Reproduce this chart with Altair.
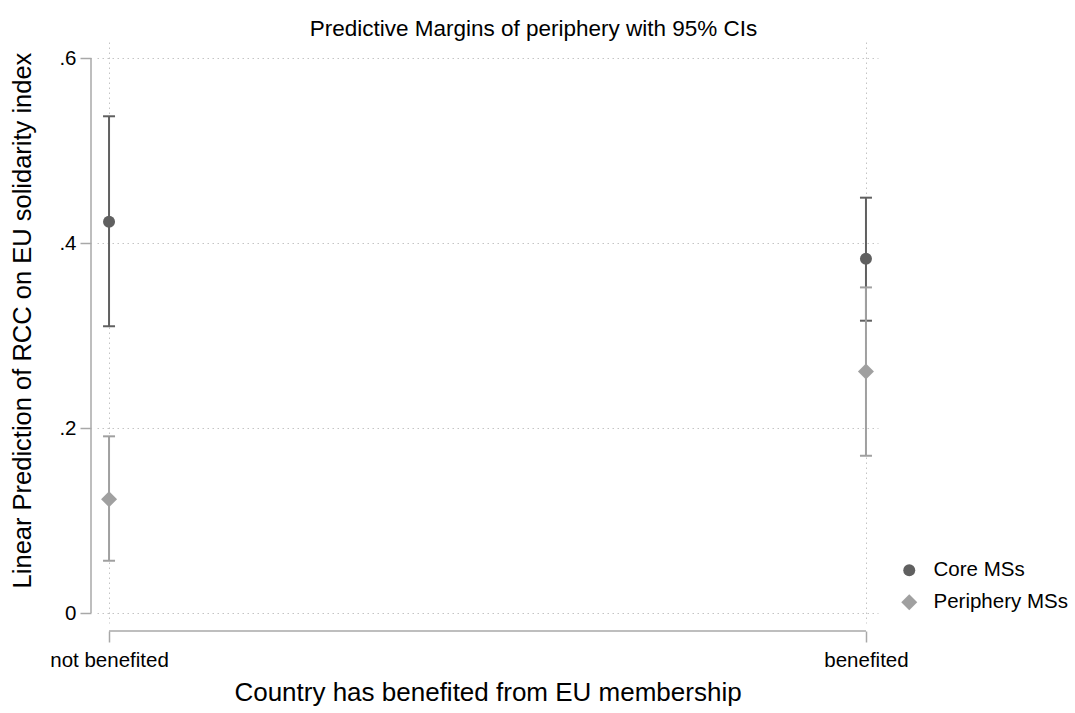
import altair as alt
import pandas as pd

# Predictive margins with 95% confidence intervals
categories = ["not benefited", "benefited"]
groups = ["Core MSs", "Periphery MSs"]

core_margin = [0.423, 0.383]
core_lo = [0.310, 0.316]
core_hi = [0.537, 0.449]

peri_margin = [0.123, 0.261]
peri_lo = [0.0565, 0.170]
peri_hi = [0.191, 0.352]

y_ticks = [0, 0.2, 0.4, 0.6]

group_colors = ["#606060", "#a0a0a0"]
group_shapes = ["circle", "diamond"]
group_sizes = [144, 256]

FONT = "Liberation Sans"
AXIS_GRAY = "#a8a8a8"
GRID_GRAY = "#c4c4c4"

rows = []
for i, cat in enumerate(categories):
    rows.append({"category": cat, "group": groups[0], "margin": core_margin[i],
                 "lo": core_lo[i], "hi": core_hi[i]})
for i, cat in enumerate(categories):
    rows.append({"category": cat, "group": groups[1], "margin": peri_margin[i],
                 "lo": peri_lo[i], "hi": peri_hi[i]})
df = pd.DataFrame(rows)

W, H = 781, 581

x_enc = alt.X(
    "category:N",
    sort=categories,
    scale=alt.Scale(type="point", domain=categories, padding=0.0159),
    axis=alt.Axis(
        title="Country has benefited from EU membership",
        titleFontSize=26, titleFontWeight="normal", titleFont=FONT,
        titleColor="#000000", titlePadding=9,
        labelFont=FONT, labelFontSize=20.5, labelColor="#000000",
        labelAngle=0, labelAlign="center", labelBaseline="top",
        labelPadding=8, labelFlush=False,
        domain=False, offset=8,
        tickSize=11, tickColor=AXIS_GRAY, tickWidth=1.5,
        grid=True, gridDash=[1.5, 3.5], gridColor=GRID_GRAY, gridWidth=1,
    ),
)

y_scale = alt.Scale(domain=[-0.0108, 0.6173], nice=False, zero=False)
y_axis = alt.Axis(
    title="Linear Prediction of RCC on EU solidarity index",
    titleFontSize=25.5, titleFontWeight="normal", titleFont=FONT,
    titleColor="#000000", titlePadding=23, titleY=278,
    values=y_ticks,
    labelExpr="datum.value == 0 ? '0' : replace(format(datum.value, '.1f'), '0.', '.')",
    labelFont=FONT, labelFontSize=20.5, labelColor="#000000", labelPadding=4,
    domain=False, offset=6,
    tickSize=11, tickColor=AXIS_GRAY, tickWidth=1.5,
    grid=True, gridDash=[1.5, 3.5], gridColor=GRID_GRAY, gridWidth=1,
)

base = alt.Chart(df).encode(x=x_enc)

# confidence interval spikes and caps, core first so periphery sits on top
bars = []
for g, col in zip(groups, group_colors):
    sub = base.transform_filter(alt.datum.group == g)
    bars.append(
        sub.mark_rule(strokeWidth=2, color=col).encode(
            y=alt.Y("lo:Q", scale=y_scale, axis=y_axis),
            y2="hi:Q",
        )
    )
    bars.append(
        sub.mark_tick(thickness=2, size=12, opacity=1, color=col).encode(
            y=alt.Y("lo:Q", scale=y_scale),
        )
    )
    bars.append(
        sub.mark_tick(thickness=2, size=12, opacity=1, color=col).encode(
            y=alt.Y("hi:Q", scale=y_scale),
        )
    )

points = base.mark_point(filled=True, opacity=1, strokeWidth=0).encode(
    y=alt.Y("margin:Q", scale=y_scale),
    color=alt.Color("group:N", scale=alt.Scale(domain=groups, range=group_colors), title=None),
    shape=alt.Shape("group:N", scale=alt.Scale(domain=groups, range=group_shapes), title=None),
    size=alt.Size("group:N", scale=alt.Scale(domain=groups, range=group_sizes), title=None),
)

# axis lines that span only the labelled range
y_line = alt.Chart(pd.DataFrame({"lo": [min(y_ticks)], "hi": [max(y_ticks)]})).mark_rule(
    color=AXIS_GRAY, strokeWidth=1.5
).encode(y=alt.Y("lo:Q", scale=y_scale), y2="hi:Q", x=alt.value(-6))

x_line = alt.Chart(pd.DataFrame({"category": [categories[0]], "end": [categories[-1]]})).mark_rule(
    color=AXIS_GRAY, strokeWidth=1.5
).encode(x=alt.X("category:N", sort=categories), x2="end:N", y=alt.value(H + 8))

chart = alt.layer(y_line, x_line, *bars, points).properties(
    width=W,
    height=H,
    title=alt.TitleParams(
        "Predictive Margins of periphery with 95% CIs",
        font=FONT, fontSize=22.5, fontWeight="normal", color="#000000",
        anchor="middle", frame="group", dx=46, offset=2,
    ),
    padding={"left": 97, "top": 42, "right": 197, "bottom": 90},
    autosize=alt.AutoSizeParams(type="none"),
    background="white",
).configure_view(
    stroke=None
).configure_legend(
    orient="none",
    legendX=802,
    legendY=518,
    labelFont=FONT,
    labelFontSize=20.5,
    labelColor="#000000",
    labelOffset=14,
    rowPadding=11,
    padding=0,
    symbolStrokeWidth=0,
    symbolOpacity=1,
)

chart.save("out.html", embed_options={"renderer": "svg", "actions": False})
